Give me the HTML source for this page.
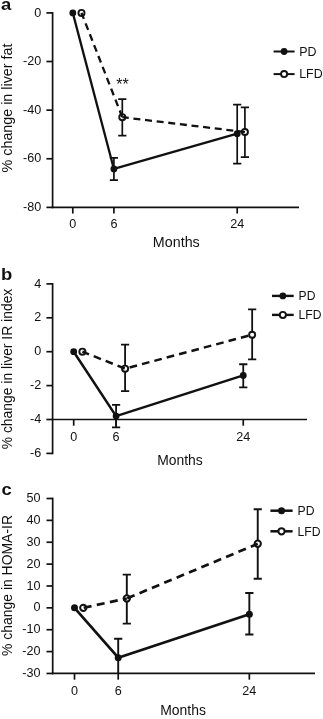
<!DOCTYPE html>
<html><head><meta charset="utf-8"><title>Figure</title>
<style>
html,body{margin:0;padding:0;background:#fff;}
body{width:323px;height:719px;overflow:hidden;}
svg{display:block;will-change:transform;font-family:'Liberation Sans', sans-serif;fill:#111;}
</style></head>
<body>
<svg width="323" height="719" viewBox="0 0 323 719">
<rect width="323" height="719" fill="#fff"/>
<g>
<path d="M52.60 12.05V208.23" stroke="#111" stroke-width="1.7" fill="none"/>
<path d="M51.75 207.38H299.00" stroke="#111" stroke-width="1.7" fill="none"/>
<path d="M46.40 12.90H52.60" stroke="#111" stroke-width="1.7"/>
<text x="41.20" y="16.50" text-anchor="end" font-size="12.6">0</text>
<path d="M46.40 61.52H52.60" stroke="#111" stroke-width="1.7"/>
<text x="41.20" y="65.12" text-anchor="end" font-size="12.6">-20</text>
<path d="M46.40 110.14H52.60" stroke="#111" stroke-width="1.7"/>
<text x="41.20" y="113.74" text-anchor="end" font-size="12.6">-40</text>
<path d="M46.40 158.76H52.60" stroke="#111" stroke-width="1.7"/>
<text x="41.20" y="162.36" text-anchor="end" font-size="12.6">-60</text>
<path d="M46.40 207.38H52.60" stroke="#111" stroke-width="1.7"/>
<text x="41.20" y="210.98" text-anchor="end" font-size="12.6">-80</text>
<path d="M72.80 207.38V213.58" stroke="#111" stroke-width="1.7"/>
<text x="72.80" y="228.30" text-anchor="middle" font-size="12.6">0</text>
<path d="M113.90 207.38V213.58" stroke="#111" stroke-width="1.7"/>
<text x="113.90" y="228.30" text-anchor="middle" font-size="12.6">6</text>
<path d="M237.20 207.38V213.58" stroke="#111" stroke-width="1.7"/>
<text x="237.20" y="228.30" text-anchor="middle" font-size="12.6">24</text>
<text x="176.30" y="247.00" text-anchor="middle" font-size="14.3">Months</text>
<text transform="translate(12.00 108.00) rotate(-90)" text-anchor="middle" font-size="14.3">% change in liver fat</text>
<text transform="translate(1.00 9.80) scale(1.12 1)" font-size="16.5" font-weight="bold">a</text>
<path d="M113.90 157.79V180.15M109.80 157.79H118.00M109.80 180.15H118.00" stroke="#111" stroke-width="1.7" fill="none"/>
<path d="M237.20 104.55V163.62M233.10 104.55H241.30M233.10 163.62H241.30" stroke="#111" stroke-width="1.7" fill="none"/>
<path d="M72.80 12.90L113.90 168.97L237.20 133.72" stroke="#111" stroke-width="2.3" fill="none" stroke-linejoin="round"/>
<circle cx="72.80" cy="12.90" r="3.4" fill="#111"/>
<circle cx="113.90" cy="168.97" r="3.4" fill="#111"/>
<circle cx="237.20" cy="133.72" r="3.4" fill="#111"/>
<path d="M122.30 99.20V135.67M118.20 99.20H126.40M118.20 135.67H126.40" stroke="#111" stroke-width="1.7" fill="none"/>
<path d="M244.90 107.47V157.06M240.80 107.47H249.00M240.80 157.06H249.00" stroke="#111" stroke-width="1.7" fill="none"/>
<circle cx="81.50" cy="12.90" r="3.05" fill="#fff" stroke="#111" stroke-width="1.9"/>
<circle cx="122.30" cy="117.19" r="3.05" fill="#fff" stroke="#111" stroke-width="1.9"/>
<circle cx="244.90" cy="132.02" r="3.05" fill="#fff" stroke="#111" stroke-width="1.9"/>
<path d="M81.50 12.90L122.30 117.19" stroke="#111" stroke-width="2.3" fill="none" stroke-dasharray="7 4.7" stroke-dashoffset="0.5"/>
<path d="M122.30 117.19L244.90 132.02" stroke="#111" stroke-width="2.3" fill="none" stroke-dasharray="7 4.7" stroke-dashoffset="0.5"/>
<path d="M273.60 51.50H294.60" stroke="#111" stroke-width="2.0"/>
<circle cx="284.10" cy="51.50" r="3.4" fill="#111"/>
<text x="299.20" y="55.70" font-size="12.4">PD</text>
<path d="M273.60 74.10H294.60" stroke="#111" stroke-width="2.0"/>
<circle cx="284.10" cy="74.10" r="3.05" fill="#fff" stroke="#111" stroke-width="1.9"/>
<text x="299.20" y="78.30" font-size="12.4">LFD</text>
<text x="122.4" y="90" text-anchor="middle" font-size="16">**</text>
</g>
<g>
<path d="M52.60 283.05V454.25" stroke="#111" stroke-width="1.7" fill="none"/>
<path d="M51.75 419.50H307.00" stroke="#111" stroke-width="1.7" fill="none"/>
<path d="M46.40 283.90H52.60" stroke="#111" stroke-width="1.7"/>
<text x="41.20" y="287.50" text-anchor="end" font-size="12.6">4</text>
<path d="M46.40 317.80H52.60" stroke="#111" stroke-width="1.7"/>
<text x="41.20" y="321.40" text-anchor="end" font-size="12.6">2</text>
<path d="M46.40 351.70H52.60" stroke="#111" stroke-width="1.7"/>
<text x="41.20" y="355.30" text-anchor="end" font-size="12.6">0</text>
<path d="M46.40 385.60H52.60" stroke="#111" stroke-width="1.7"/>
<text x="41.20" y="389.20" text-anchor="end" font-size="12.6">-2</text>
<path d="M46.40 419.50H52.60" stroke="#111" stroke-width="1.7"/>
<text x="41.20" y="423.10" text-anchor="end" font-size="12.6">-4</text>
<path d="M46.40 453.40H52.60" stroke="#111" stroke-width="1.7"/>
<text x="41.20" y="457.00" text-anchor="end" font-size="12.6">-6</text>
<path d="M73.70 419.50V425.70" stroke="#111" stroke-width="1.7"/>
<text x="73.70" y="441.00" text-anchor="middle" font-size="12.6">0</text>
<path d="M116.09 419.50V425.70" stroke="#111" stroke-width="1.7"/>
<text x="116.09" y="441.00" text-anchor="middle" font-size="12.6">6</text>
<path d="M243.26 419.50V425.70" stroke="#111" stroke-width="1.7"/>
<text x="243.26" y="441.00" text-anchor="middle" font-size="12.6">24</text>
<text x="180.00" y="465.00" text-anchor="middle" font-size="13.9">Months</text>
<text transform="translate(12.00 369.00) rotate(-90)" text-anchor="middle" font-size="13.9">% change in liver IR index</text>
<text transform="translate(1.00 280.10) scale(1.12 1)" font-size="16.5" font-weight="bold">b</text>
<path d="M116.09 404.92V427.30M111.99 404.92H120.19M111.99 427.30H120.19" stroke="#111" stroke-width="1.8" fill="none"/>
<path d="M243.26 364.24V387.29M239.16 364.24H247.36M239.16 387.29H247.36" stroke="#111" stroke-width="1.8" fill="none"/>
<path d="M73.70 351.70L116.09 416.11L243.26 375.43" stroke="#111" stroke-width="2.5" fill="none" stroke-linejoin="round"/>
<circle cx="73.70" cy="351.70" r="3.4" fill="#111"/>
<circle cx="116.09" cy="416.11" r="3.4" fill="#111"/>
<circle cx="243.26" cy="375.43" r="3.4" fill="#111"/>
<path d="M125.09 344.58V391.19M120.99 344.58H129.19M120.99 391.19H129.19" stroke="#111" stroke-width="1.8" fill="none"/>
<path d="M252.16 309.32V359.33M248.06 309.32H256.26M248.06 359.33H256.26" stroke="#111" stroke-width="1.8" fill="none"/>
<circle cx="82.40" cy="351.70" r="3.05" fill="#fff" stroke="#111" stroke-width="1.9"/>
<circle cx="125.09" cy="368.65" r="3.05" fill="#fff" stroke="#111" stroke-width="1.9"/>
<circle cx="252.16" cy="334.75" r="3.05" fill="#fff" stroke="#111" stroke-width="1.9"/>
<path d="M82.40 351.70L125.09 368.65L252.16 334.75" stroke="#111" stroke-width="2.5" fill="none" stroke-dasharray="7.7 5.1" stroke-dashoffset="0.6"/>
<path d="M272.00 295.90H293.70" stroke="#111" stroke-width="2.4"/>
<circle cx="282.85" cy="295.90" r="3.4" fill="#111"/>
<text x="298.60" y="300.10" font-size="12.1">PD</text>
<path d="M272.00 314.90H293.70" stroke="#111" stroke-width="2.4"/>
<circle cx="282.85" cy="314.90" r="3.05" fill="#fff" stroke="#111" stroke-width="1.9"/>
<text x="298.60" y="319.10" font-size="12.1">LFD</text>
</g>
<g>
<path d="M52.70 497.65V674.31" stroke="#111" stroke-width="1.7" fill="none"/>
<path d="M51.85 673.46H315.00" stroke="#111" stroke-width="1.7" fill="none"/>
<path d="M46.50 498.50H52.70" stroke="#111" stroke-width="1.7"/>
<text x="40.40" y="502.10" text-anchor="end" font-size="12.6">50</text>
<path d="M46.50 520.37H52.70" stroke="#111" stroke-width="1.7"/>
<text x="40.40" y="523.97" text-anchor="end" font-size="12.6">40</text>
<path d="M46.50 542.24H52.70" stroke="#111" stroke-width="1.7"/>
<text x="40.40" y="545.84" text-anchor="end" font-size="12.6">30</text>
<path d="M46.50 564.11H52.70" stroke="#111" stroke-width="1.7"/>
<text x="40.40" y="567.71" text-anchor="end" font-size="12.6">20</text>
<path d="M46.50 585.98H52.70" stroke="#111" stroke-width="1.7"/>
<text x="40.40" y="589.58" text-anchor="end" font-size="12.6">10</text>
<path d="M46.50 607.85H52.70" stroke="#111" stroke-width="1.7"/>
<text x="40.40" y="611.45" text-anchor="end" font-size="12.6">0</text>
<path d="M46.50 629.72H52.70" stroke="#111" stroke-width="1.7"/>
<text x="40.40" y="633.32" text-anchor="end" font-size="12.6">-10</text>
<path d="M46.50 651.59H52.70" stroke="#111" stroke-width="1.7"/>
<text x="40.40" y="655.19" text-anchor="end" font-size="12.6">-20</text>
<path d="M46.50 673.46H52.70" stroke="#111" stroke-width="1.7"/>
<text x="40.40" y="677.06" text-anchor="end" font-size="12.6">-30</text>
<path d="M74.50 673.46V679.66" stroke="#111" stroke-width="1.7"/>
<text x="74.50" y="694.90" text-anchor="middle" font-size="12.6">0</text>
<path d="M118.21 673.46V679.66" stroke="#111" stroke-width="1.7"/>
<text x="118.21" y="694.90" text-anchor="middle" font-size="12.6">6</text>
<path d="M249.34 673.46V679.66" stroke="#111" stroke-width="1.7"/>
<text x="249.34" y="694.90" text-anchor="middle" font-size="12.6">24</text>
<text x="183.00" y="714.50" text-anchor="middle" font-size="13.95">Months</text>
<text transform="translate(12.00 585.50) rotate(-90)" text-anchor="middle" font-size="13.95">% change in HOMA-IR</text>
<text transform="translate(1.50 495.00) scale(1.12 1)" font-size="16.5" font-weight="bold">c</text>
<path d="M118.21 638.69V673.46M114.11 638.69H122.31" stroke="#111" stroke-width="1.9" fill="none"/>
<path d="M249.34 592.98V634.53M245.24 592.98H253.44M245.24 634.53H253.44" stroke="#111" stroke-width="1.9" fill="none"/>
<path d="M74.50 607.85L118.21 657.71L249.34 614.19" stroke="#111" stroke-width="2.7" fill="none" stroke-linejoin="round"/>
<circle cx="74.50" cy="607.85" r="3.5" fill="#111"/>
<circle cx="118.21" cy="657.71" r="3.5" fill="#111"/>
<circle cx="249.34" cy="614.19" r="3.5" fill="#111"/>
<path d="M126.81 574.61V623.60M122.71 574.61H130.91M122.71 623.60H130.91" stroke="#111" stroke-width="1.9" fill="none"/>
<path d="M257.74 509.22V578.76M253.64 509.22H261.84M253.64 578.76H261.84" stroke="#111" stroke-width="1.9" fill="none"/>
<circle cx="83.30" cy="607.85" r="3.15" fill="#fff" stroke="#111" stroke-width="2.0"/>
<circle cx="126.81" cy="598.45" r="3.15" fill="#fff" stroke="#111" stroke-width="2.0"/>
<circle cx="257.74" cy="543.77" r="3.15" fill="#fff" stroke="#111" stroke-width="2.0"/>
<path d="M83.30 607.85L126.81 598.45" stroke="#111" stroke-width="2.7" fill="none" stroke-dasharray="8 5.4" stroke-dashoffset="-0.4"/>
<path d="M126.81 598.45L257.74 543.77" stroke="#111" stroke-width="2.7" fill="none" stroke-dasharray="8 5.4" stroke-dashoffset="-0.4"/>
<path d="M270.40 510.70H292.60" stroke="#111" stroke-width="2.5"/>
<circle cx="281.50" cy="510.70" r="3.5" fill="#111"/>
<text x="297.60" y="514.90" font-size="12.2">PD</text>
<path d="M270.40 531.30H292.60" stroke="#111" stroke-width="2.5"/>
<circle cx="281.50" cy="531.30" r="3.15" fill="#fff" stroke="#111" stroke-width="2.0"/>
<text x="297.60" y="535.50" font-size="12.2">LFD</text>
</g>
</svg>
</body></html>
